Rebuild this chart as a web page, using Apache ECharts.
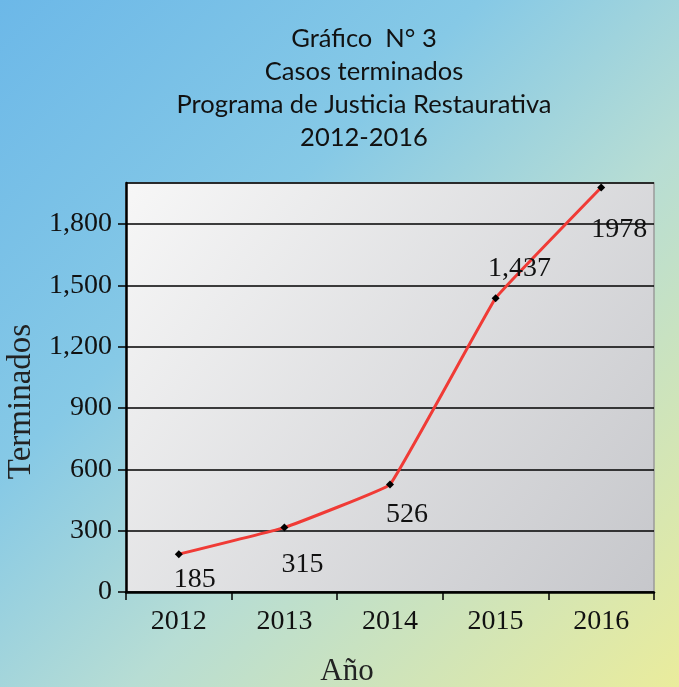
<!DOCTYPE html>
<html>
<head>
<meta charset="utf-8">
<script src="https://cdn.jsdelivr.net/npm/echarts@6/dist/echarts.min.js"></script>
<style>
    html, body { margin: 0; padding: 0; }
    #chart { width: 679px; height: 687px; }
</style>
</head>
<body>
<div id="chart"></div>
<script>
// Casos terminados 2012-2016
const years = ['2012', '2013', '2014', '2015', '2016'];
const terminados = [185, 315, 526, 1437, 1978];
const pointLabels = ['185', '315', '526', '1,437', '1978'];
const titleLines = ['Gráfico  N° 3', 'Casos terminados', 'Programa de Justicia Restaurativa', '2012-2016'];

// where each value label sits relative to its point
const labelOffsets = [[16, 2], [18, 14], [17, 7], [24, -6], [18, 19]];
const labelSides = ['bottom', 'bottom', 'bottom', 'top', 'bottom'];

const serif = '"Liberation Serif", "DejaVu Serif", serif';

const chart = echarts.init(document.getElementById('chart'));

const option = {
    animation: false,
    backgroundColor: {
        type: 'linear',
        x: 0, y: 0, x2: 1, y2: 1,
        colorStops: [
            { offset: 0, color: '#6cb8e8' },
            { offset: 0.35, color: '#86c9e6' },
            { offset: 0.6, color: '#b7ddd4' },
            { offset: 1, color: '#eaec9c' }
        ]
    },
    title: {
        text: titleLines.join('\n'),
        left: 359,
        textAlign: 'center',
        top: 17,
        textStyle: {
            fontFamily: 'Lato, "Open Sans", sans-serif',
            fontWeight: 'normal',
            fontSize: 25.5,
            lineHeight: 33,
            color: '#111'
        }
    },
    grid: {
        left: 126,
        right: 25,
        top: 183,
        bottom: 95,
        outerBoundsMode: 'none',
        show: true,
        borderColor: '#9a9a9a',
        borderWidth: 1.5,
        backgroundColor: {
            type: 'linear',
            x: 0, y: 0, x2: 1, y2: 1,
            colorStops: [
                { offset: 0, color: '#f7f7f7' },
                { offset: 1, color: '#c6c7cb' }
            ]
        }
    },
    xAxis: {
        type: 'category',
        data: years,
        boundaryGap: true,
        name: 'Año',
        nameLocation: 'middle',
        nameGap: 64,
        nameTextStyle: {
            fontFamily: serif, fontSize: 31, color: '#222',
            padding: [0, 86, 0, 0]
        },
        axisLine: { lineStyle: { color: '#000', width: 2.5 } },
        axisTick: { show: true, length: 8, lineStyle: { color: '#000', width: 1.5 } },
        axisLabel: { fontFamily: serif, fontSize: 28, color: '#111', margin: 16 }
    },
    yAxis: {
        type: 'value',
        min: 0,
        max: 2000,
        interval: 300,
        name: 'Terminados',
        nameLocation: 'middle',
        nameGap: 88,
        nameTextStyle: {
            fontFamily: serif, fontSize: 33, color: '#222',
            padding: [0, 28, 0, 0]
        },
        axisLine: { show: true, lineStyle: { color: '#000', width: 2.5 } },
        axisTick: { show: true, length: 8, lineStyle: { color: '#000', width: 1.5 } },
        axisLabel: {
            fontFamily: serif, fontSize: 28, color: '#111', margin: 14,
            showMaxLabel: false
        },
        splitLine: { lineStyle: { color: '#000', width: 1.5 } }
    },
    series: [
        {
            type: 'line',
            data: terminados.map((v, i) => ({
                value: v,
                label: {
                    position: labelSides[i],
                    offset: labelOffsets[i],
                    formatter: pointLabels[i]
                }
            })),
            smooth: 0.06,
            symbol: 'diamond',
            symbolSize: 8,
            itemStyle: { color: '#000' },
            lineStyle: { color: '#f03b36', width: 3 },
            label: {
                show: true,
                fontFamily: serif,
                fontSize: 28,
                color: '#111'
            },
            z: 5
        }
    ]
};

chart.setOption(option);
</script>
</body>
</html>
